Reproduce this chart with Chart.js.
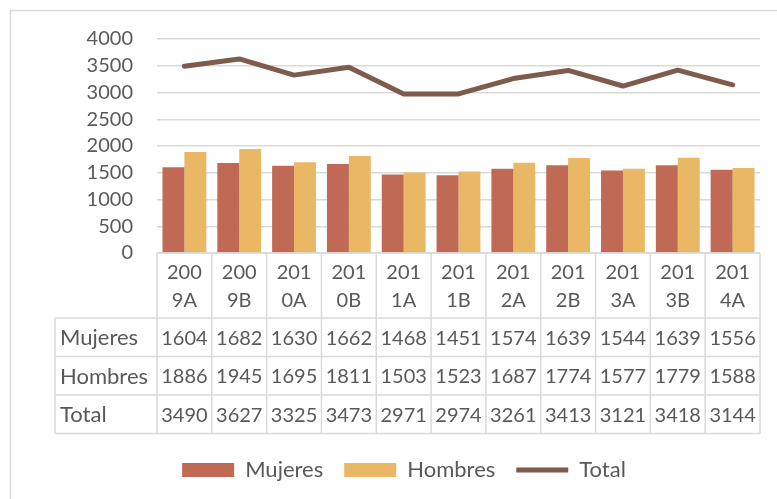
<!DOCTYPE html>
<html lang="es">
<head>
<meta charset="UTF-8">
<title>Mujeres / Hombres / Total</title>
<script src="https://cdn.jsdelivr.net/npm/chart.js"></script>
<style>
    html, body { margin: 0; padding: 0; background: #fff; }
    #box { width: 777px; height: 499px; position: relative; }
</style>
</head>
<body>
<div id="box"><canvas id="grafico"></canvas></div>
<script>
    // datos
    const periodos = [['200', '9A'], ['200', '9B'], ['201', '0A'], ['201', '0B'], ['201', '1A'], ['201', '1B'],
                      ['201', '2A'], ['201', '2B'], ['201', '3A'], ['201', '3B'], ['201', '4A']];
    const mujeres = [1604, 1682, 1630, 1662, 1468, 1451, 1574, 1639, 1544, 1639, 1556];
    const hombres = [1886, 1945, 1695, 1811, 1503, 1523, 1687, 1774, 1577, 1779, 1588];
    const total = [3490, 3627, 3325, 3473, 2971, 2974, 3261, 3413, 3121, 3418, 3144];
    const yMax = 4000;
    const yPaso = 500;

    const colorTexto = '#595959';
    const colorLinea = '#D9D9D9';
    const fuente = 'Lato';

    // marco del area del grafico
    const marco = {
        id: 'marco',
        beforeDraw(chart) {
            const ctx = chart.ctx;
            ctx.save();
            ctx.strokeStyle = colorLinea;
            ctx.lineWidth = 1.5;
            ctx.beginPath();
            ctx.moveTo(10.5, chart.height);
            ctx.lineTo(10.5, 10.5);
            ctx.lineTo(chart.width, 10.5);
            ctx.stroke();
            ctx.restore();
        }
    };

    // tabla de datos debajo del eje x
    const tabla = {
        id: 'tabla',
        afterDraw(chart) {
            const ctx = chart.ctx;
            const x = chart.scales.x;
            const area = chart.chartArea;
            const anchoCol = x.getPixelForValue(1) - x.getPixelForValue(0);
            const izq = area.left, der = area.right;
            const top = area.bottom;
            const altoCab = 65;
            const altoFila = 38.5;
            const izqEtiq = 55;
            const filas = [['Mujeres', mujeres], ['Hombres', hombres], ['Total', total]];
            const fondo = top + altoCab + altoFila * filas.length;

            ctx.save();
            ctx.strokeStyle = colorLinea;
            ctx.lineWidth = 1.5;
            ctx.beginPath();
            // horizontales
            ctx.moveTo(izq, top); ctx.lineTo(der, top);
            for (let i = 0; i <= filas.length; i++) {
                const y = top + altoCab + altoFila * i;
                ctx.moveTo(izqEtiq, y); ctx.lineTo(der, y);
            }
            // verticales
            for (let i = 0; i <= periodos.length; i++) {
                const xx = izq + anchoCol * i;
                ctx.moveTo(xx, top); ctx.lineTo(xx, fondo);
            }
            ctx.moveTo(izqEtiq, top + altoCab); ctx.lineTo(izqEtiq, fondo);
            ctx.stroke();

            ctx.fillStyle = colorTexto;
            ctx.font = '20px ' + fuente;
            ctx.textBaseline = 'middle';
            ctx.textAlign = 'center';
            periodos.forEach((p, i) => {
                const cx = x.getPixelForValue(i);
                ctx.fillText(p[0], cx, top + 20);
                ctx.fillText(p[1], cx, top + 48);
            });
            filas.forEach((f, r) => {
                const cy = top + altoCab + altoFila * r + altoFila / 2 + 1;
                ctx.textAlign = 'left';
                ctx.font = '22px ' + fuente;
                ctx.fillText(f[0], izqEtiq + 5, cy);
                ctx.textAlign = 'center';
                ctx.font = '20px ' + fuente;
                f[1].forEach((v, i) => ctx.fillText(String(v), x.getPixelForValue(i), cy));
            });
            ctx.restore();
        }
    };

    new Chart(document.getElementById('grafico'), {
        data: {
            labels: periodos,
            datasets: [
                {
                    type: 'bar',
                    label: 'Mujeres',
                    data: mujeres,
                    backgroundColor: '#C06A55',
                    pointStyle: 'rect',
                    categoryPercentage: 0.8,
                    barPercentage: 1.0
                },
                {
                    type: 'bar',
                    label: 'Hombres',
                    data: hombres,
                    backgroundColor: '#EAB765',
                    pointStyle: 'rect',
                    categoryPercentage: 0.8,
                    barPercentage: 1.0
                },
                {
                    type: 'line',
                    label: 'Total',
                    data: total,
                    borderColor: '#7E5C4D',
                    backgroundColor: '#7E5C4D',
                    borderWidth: 5,
                    borderCapStyle: 'round',
                    borderJoinStyle: 'round',
                    pointRadius: 0,
                    pointStyle: 'line',
                    tension: 0
                }
            ]
        },
        options: {
            responsive: true,
            maintainAspectRatio: false,
            animation: false,
            layout: { padding: { top: 39, left: 48, right: 17, bottom: 8 } },
            scales: {
                x: {
                    ticks: { display: false },
                    grid: { display: false },
                    border: { display: false },
                    afterFit(s) { s.height = 185; }
                },
                y: {
                    min: 0,
                    max: yMax,
                    ticks: {
                        stepSize: yPaso,
                        autoSkip: false,
                        padding: 24,
                        color: colorTexto,
                        font: { family: fuente, size: 20 },
                        callback: v => String(v)
                    },
                    grid: { color: colorLinea, lineWidth: 1.5, drawTicks: false },
                    border: { display: false },
                    afterFit(s) { s.width = 109; }
                }
            },
            plugins: {
                legend: {
                    position: 'bottom',
                    labels: {
                        usePointStyle: true,
                        pointStyleWidth: 52,
                        boxHeight: 14,
                        padding: 21,
                        color: colorTexto,
                        font: { family: fuente, size: 22 }
                    }
                },
                tooltip: { enabled: false }
            }
        },
        plugins: [marco, tabla]
    });
</script>
</body>
</html>
